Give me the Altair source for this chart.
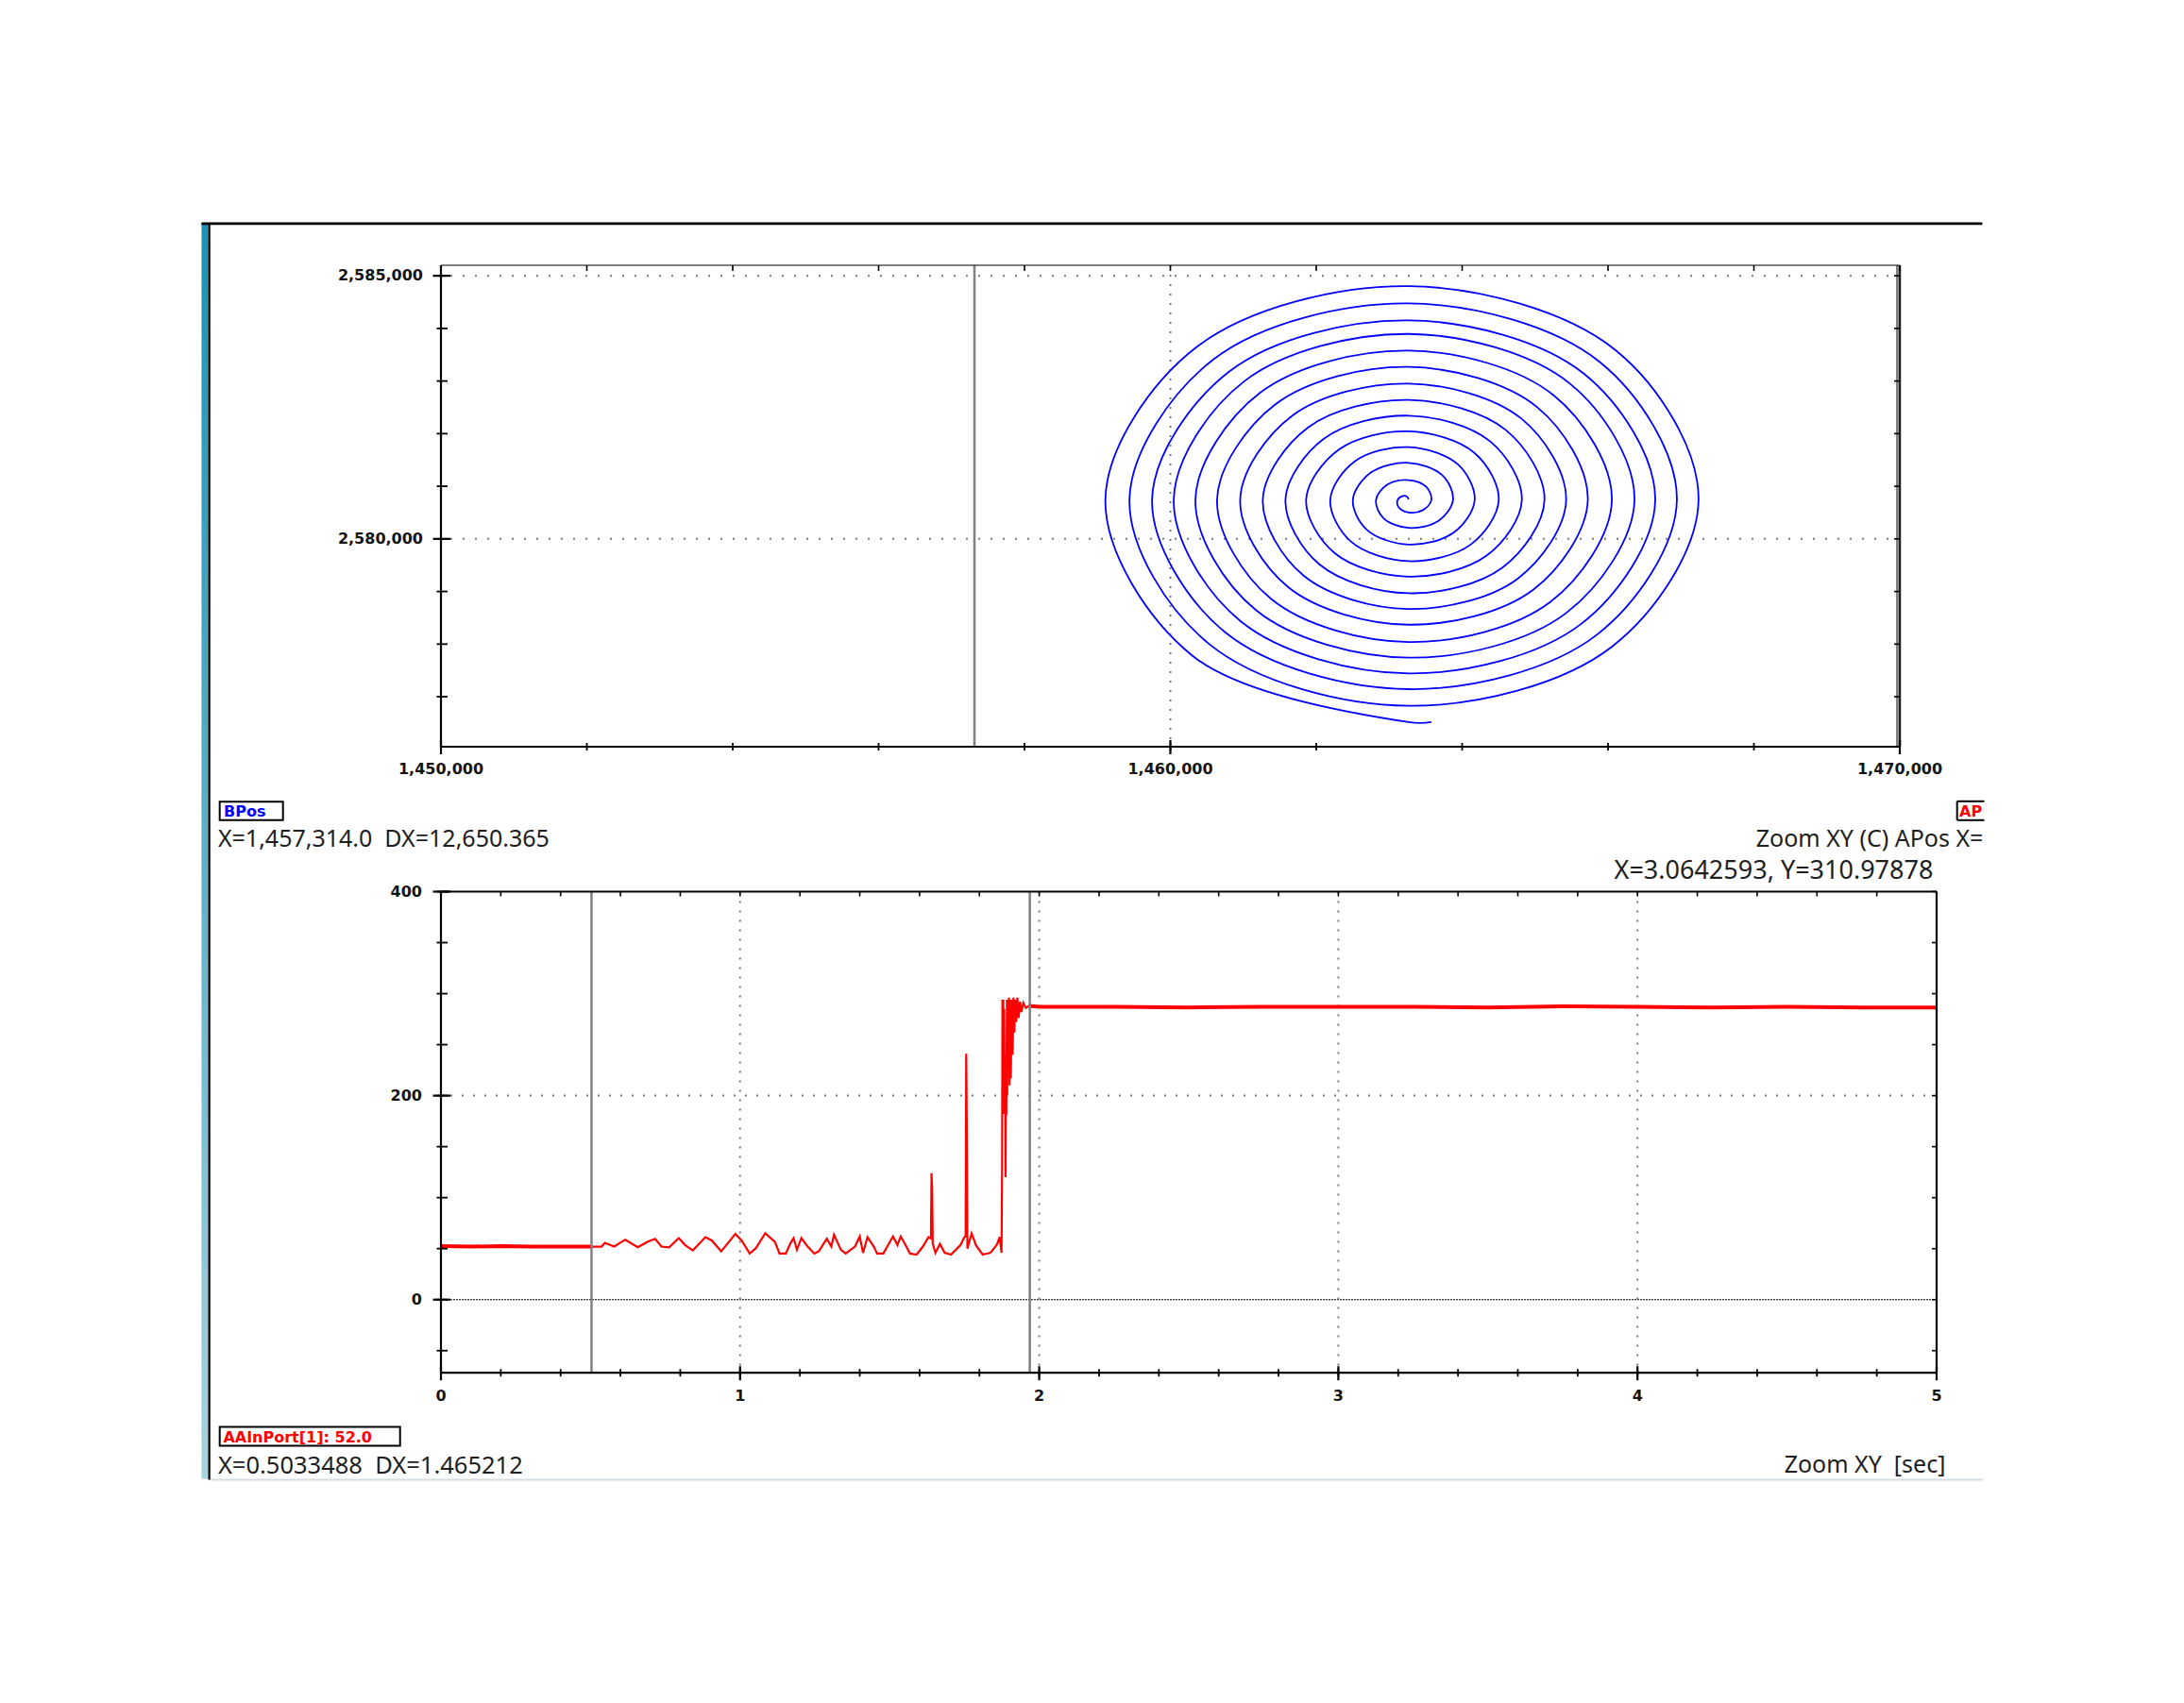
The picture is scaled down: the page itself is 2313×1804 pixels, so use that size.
import altair as alt
import pandas as pd

# ------------------------------------------------------------------ data
# Upper XY plot: BPos (x) vs APos (y) spiral, points read along each turn
# (right / upper-right / top / upper-left / left / lower-left / bottom / lower-right)
SPIRAL_X = [
    1463267, 1463241, 1463191, 1463116, 1463129, 1463267, 1463461, 1463578,
    1463510, 1463267, 1462976, 1462819, 1462921, 1463267, 1463670, 1463875,
    1463731, 1463267, 1462748, 1462502, 1462696, 1463267, 1463887, 1464172,
    1463942, 1463267, 1462532, 1462192, 1462475, 1463267, 1464116, 1464502,
    1464164, 1463267, 1462310, 1461861, 1462254, 1463267, 1464331, 1464819,
    1464382, 1463267, 1462104, 1461578, 1462042, 1463267, 1464553, 1465129,
    1464597, 1463267, 1461889, 1461267, 1461827, 1463267, 1464763, 1465426,
    1464812, 1463267, 1461669, 1460957, 1461612, 1463267, 1464974, 1465723,
    1465029, 1463267, 1461445, 1460640, 1461383, 1463267, 1465207, 1466053,
    1465255, 1463267, 1461230, 1460343, 1461173, 1463267, 1465422, 1466363,
    1465477, 1463267, 1461013, 1460046, 1460962, 1463267, 1465628, 1466647,
    1465668, 1463267, 1460817, 1459749, 1460751, 1463267, 1465839, 1466944,
    1465887, 1463267, 1460594, 1459439, 1460530, 1463267, 1466055, 1467241,
    1466108, 1463267, 1460361, 1459109, 1460304, 1463267, 1463578]
SPIRAL_Y = [
    2580753, 2580806, 2580817, 2580741, 2580603, 2580502, 2580547, 2580741,
    2580984, 2581117, 2581032, 2580741, 2580395, 2580209, 2580338, 2580741,
    2581205, 2581445, 2581260, 2580741, 2580170, 2579892, 2580121, 2580741,
    2581416, 2581744, 2581476, 2580741, 2579949, 2579576, 2579892, 2580741,
    2581638, 2582043, 2581698, 2580741, 2579728, 2579283, 2579677, 2580741,
    2581856, 2582342, 2581904, 2580741, 2579516, 2578966, 2579455, 2580741,
    2582071, 2582640, 2582119, 2580741, 2579301, 2578668, 2579245, 2580741,
    2582286, 2582951, 2582339, 2580741, 2579086, 2578369, 2579034, 2580741,
    2582503, 2583268, 2582563, 2580741, 2578857, 2578040, 2578801, 2580741,
    2582729, 2583578, 2582778, 2580741, 2578647, 2577742, 2578586, 2580741,
    2582951, 2583895, 2582995, 2580741, 2578436, 2577443, 2578380, 2580741,
    2583142, 2584152, 2583191, 2580741, 2578225, 2577144, 2578169, 2580741,
    2583361, 2584474, 2583414, 2580741, 2578004, 2576828, 2577953, 2580741,
    2583582, 2584803, 2583647, 2580741, 2577778, 2576517, 2576517]

TOP_X_DOMAIN = [1450000, 1470000]
TOP_Y_DOMAIN = [2576050, 2585200]
TOP_X_LABELS = [1450000, 1460000, 1470000]
TOP_Y_LABELS = [2580000, 2585000]
TOP_X_TICKS = [1450000, 1452000, 1454000, 1456000, 1458000, 1460000,
               1462000, 1464000, 1466000, 1468000, 1470000]
TOP_Y_TICKS = [2577000, 2578000, 2579000, 2580000, 2581000, 2582000,
               2583000, 2584000, 2585000]
TOP_GRID_X = [1460000]
TOP_GRID_Y = [2580000, 2585000]
TOP_CURSORS = [1457314.0, 1469964.365]

# Lower time plot: AAInPort[1] vs time [sec]
T_SEC = [0.0, 0.1, 0.2, 0.3, 0.4, 0.503, 0.537, 0.548, 0.579, 0.616, 0.658, 0.690,
         0.716, 0.737, 0.763, 0.795, 0.816, 0.842, 0.884, 0.905, 0.937, 0.984, 1.005,
         1.032, 1.053, 1.084, 1.116, 1.132, 1.153, 1.169, 1.179, 1.190, 1.205, 1.226,
         1.248, 1.263, 1.290, 1.305, 1.314, 1.337, 1.353, 1.384, 1.400, 1.411, 1.426,
         1.447, 1.458, 1.479, 1.495, 1.511, 1.526, 1.537, 1.553, 1.568, 1.590, 1.611,
         1.630, 1.638, 1.640, 1.642, 1.644, 1.653, 1.668, 1.684, 1.705, 1.737, 1.750,
         1.754, 1.756, 1.758, 1.760, 1.774, 1.789, 1.811, 1.837, 1.858, 1.868, 1.874,
         1.876, 1.877, 1.8785, 1.880, 1.8815, 1.883, 1.8845, 1.886, 1.8875, 1.889,
         1.890, 1.892, 1.893, 1.895, 1.897, 1.899, 1.901, 1.903, 1.905, 1.908, 1.911,
         1.914, 1.917, 1.920, 1.923, 1.927, 1.931, 1.936, 1.940, 1.947, 1.955, 1.965,
         2.0, 2.25, 2.5, 2.75, 3.0, 3.25, 3.5, 3.75, 4.0, 4.25, 4.5, 4.75, 5.0]
AIN = [52.5, 52, 52.5, 52, 52, 52, 52, 55.7, 52, 58.8, 51.3, 56.7,
       59.7, 52, 51.3, 60.3, 53.6, 48.3, 61.3, 58.1, 47.3, 64.4, 58.1,
       45.2, 50.5, 65.1, 56.7, 45.2, 45.2, 55.7, 60.3, 48.9, 60.3, 52,
       45.2, 47.3, 59.7, 52, 63.7, 48.9, 45.2, 52, 62, 45.9, 61.3,
       52, 45.2, 45.2, 53.6, 62, 53.6, 62, 53.6, 45.2, 44.2, 52,
       61.3, 60, 124, 110, 55, 45.9, 54.6, 45.9, 44.2, 53.6, 61.3,
       62, 241, 165, 50, 65, 53, 44.2, 45.9, 53.6, 61.3, 46,
       132, 294, 185, 294, 182, 285, 190, 240, 120, 230,
       181, 294, 200, 294, 230, 296, 210, 294, 217, 294, 240,
       296, 262, 294, 272, 296, 276, 292, 282, 291, 286, 288,
       287, 287, 286.5, 287, 287, 287, 286.5, 287.5, 287, 286.5, 287, 286.5, 286.5]

BOT_X_DOMAIN = [0, 5]
BOT_Y_DOMAIN = [-71.7, 400]
BOT_X_LABELS = [0, 1, 2, 3, 4, 5]
BOT_Y_LABELS = [0, 200, 400]
BOT_X_TICKS = [0.0, 0.2, 0.4, 0.6, 0.8, 1.0, 1.2, 1.4, 1.6, 1.8, 2.0, 2.2, 2.4,
               2.6, 2.8, 3.0, 3.2, 3.4, 3.6, 3.8, 4.0, 4.2, 4.4, 4.6, 4.8, 5.0]
BOT_Y_TICKS = [-50, 0, 50, 100, 150, 200, 250, 300, 350, 400]
BOT_GRID_X = [1, 2, 3, 4]
BOT_GRID_Y = [200]
BOT_ZERO = [0]
BOT_CURSORS = [0.5033488, 1.9685608]

TXT_TOP_INFO = "X=1,457,314.0\u00a0\u00a0DX=12,650.365"
TXT_TOP_RIGHT = "Zoom XY (C) APos X="
TXT_CURSOR = "X=3.0642593, Y=310.97878"
TXT_BOT_INFO = "X=0.5033488\u00a0\u00a0DX=1.465212"
TXT_BOT_RIGHT = "Zoom XY\u00a0\u00a0[sec]"

# ------------------------------------------------------------------ layout
W1, H1 = 1545.0, 510.0
W2, H2 = 1584.0, 509.7
GAP = 153.5
UI_FONT = "Noto Sans"
TICK_FONT = "DejaVu Sans"
TXT_COLOR = "#1e1e1e"

one = pd.DataFrame({"k": [0]})


def hline(x1, x2, y, color="black", w=2.0, dash=None):
    kw = dict(color=color, strokeWidth=w)
    if dash:
        kw["strokeDash"] = dash
    return alt.Chart(one).mark_rule(**kw).encode(
        x=alt.value(x1), x2=alt.value(x2), y=alt.value(y))


def vline(x, y1, y2, color="black", w=2.0, dash=None):
    kw = dict(color=color, strokeWidth=w)
    if dash:
        kw["strokeDash"] = dash
    return alt.Chart(one).mark_rule(**kw).encode(
        x=alt.value(x), y=alt.value(y1), y2=alt.value(y2))


def box(x1, x2, y1, y2, **kw):
    return alt.Chart(one).mark_rect(**kw).encode(
        x=alt.value(x1), x2=alt.value(x2), y=alt.value(y1), y2=alt.value(y2))


def text(x, y, s, font, size, color=TXT_COLOR, align="left", weight="normal"):
    return alt.Chart(one).mark_text(
        align=align, baseline="alphabetic", font=font, fontSize=size, color=color,
        fontWeight=weight,
    ).encode(x=alt.value(x), y=alt.value(y), text=alt.value(s))


def xrules(values, sx, y1, y2, color="black", w=1.6, dash=None):
    kw = dict(color=color, strokeWidth=w)
    if dash:
        kw["strokeDash"] = dash
    df = pd.DataFrame({"v": values})
    return alt.Chart(df).mark_rule(**kw).encode(
        x=alt.X("v:Q", scale=sx, axis=None), y=alt.value(y1), y2=alt.value(y2))


def yrules(values, sy, x1, x2, color="black", w=1.6, dash=None):
    kw = dict(color=color, strokeWidth=w)
    if dash:
        kw["strokeDash"] = dash
    df = pd.DataFrame({"v": values})
    return alt.Chart(df).mark_rule(**kw).encode(
        y=alt.Y("v:Q", scale=sy, axis=None), x=alt.value(x1), x2=alt.value(x2))


def xlabels(values, sx, y, fmt):
    df = pd.DataFrame({"v": values})
    return alt.Chart(df).transform_calculate(
        lab=f"format(datum.v, '{fmt}')"
    ).mark_text(align="center", baseline="top", font=TICK_FONT, fontSize=16,
                fontWeight="bold", color="#141414").encode(
        x=alt.X("v:Q", scale=sx, axis=None), y=alt.value(y), text=alt.Text("lab:N"))


def ylabels(values, sy, x, fmt):
    df = pd.DataFrame({"v": values})
    return alt.Chart(df).transform_calculate(
        lab=f"format(datum.v, '{fmt}')"
    ).mark_text(align="right", baseline="middle", font=TICK_FONT, fontSize=16,
                fontWeight="bold", color="#141414").encode(
        y=alt.Y("v:Q", scale=sy, axis=None), x=alt.value(x), text=alt.Text("lab:N"))


# ------------------------------------------------------------------ panel 1
SX1 = alt.Scale(domain=TOP_X_DOMAIN, nice=False, zero=False)
SY1 = alt.Scale(domain=TOP_Y_DOMAIN, nice=False, zero=False)

teal = alt.LinearGradient(
    gradient="linear",
    stops=[alt.GradientStop(color="#1A92B4", offset=0),
           alt.GradientStop(color="#5BB0C9", offset=0.5),
           alt.GradientStop(color="#A8D3DF", offset=1)],
    x1=0, x2=0, y1=0, y2=1)

spiral_df = pd.DataFrame({"x": SPIRAL_X, "y": SPIRAL_Y, "i": list(range(len(SPIRAL_X)))})
spiral = alt.Chart(spiral_df).mark_line(
    interpolate="catmull-rom", color="#0000FF", strokeWidth=1.8
).encode(
    x=alt.X("x:Q", scale=SX1, axis=None),
    y=alt.Y("y:Q", scale=SY1, axis=None),
    order="i:Q",
)

p1_layers = [
    box(-458.6, -457.6, -272.5, -271.5, fill="white"),          # page anchor
    box(-253.6, -246.6, -44.5, 1285.5, fill=teal),               # teal side bar
    vline(-245.4, -44.5, 1286.5, "black", 2.3),
    hline(-253.6, 1632.4, -44.2, "black", 2.7),                  # window top line
    hline(-244.0, 1633.4, 1286.5, "#D3DDE2", 2.0),               # window bottom line
    box(-234.3, -167.3, 568.2, 587.8, fill="white", stroke="black", strokeWidth=2),
    text(-230.0, 583.6, "BPos", TICK_FONT, 16, "#0000FF", weight="bold"),
    text(-236.1, 616.0, TXT_TOP_INFO, UI_FONT, 25),
    hline(1605.7, 1634.5, 567.8, "black", 2),
    hline(1605.7, 1634.5, 587.8, "black", 2),
    vline(1605.7, 567.8, 587.8, "black", 2),
    text(1608.0, 583.6, "AP", TICK_FONT, 16, "#FF0000", weight="bold"),
    text(1633.4, 616.0, TXT_TOP_RIGHT, UI_FONT, 25, align="right"),
    # grid
    yrules(TOP_GRID_Y, SY1, 10, W1, "#7A7A7A", 2, [2, 11]),
    xrules(TOP_GRID_X, SX1, 0, H1, "#7A7A7A", 2, [2, 8]),
    spiral,
    xrules(TOP_CURSORS, SX1, 0, H1, "#808080", 2.5),
    # frame
    vline(0, 0, H1, "black", 2.2),
    hline(0, W1, H1, "black", 2.2),
    hline(0, W1, 0, "black", 1.2),
    vline(W1, 0, H1, "#202020", 2.5),
    # ticks
    yrules(TOP_Y_TICKS, SY1, -4.5, 7, "black", 1.8),
    yrules(TOP_Y_LABELS, SY1, -8.5, 10, "black", 2.2),
    xrules(TOP_X_TICKS, SX1, H1 - 4, H1 + 4, "black", 1.8),
    xrules(TOP_X_LABELS, SX1, H1 - 7, H1 + 8, "black", 2.2),
    xrules(TOP_X_TICKS, SX1, 0, 6, "black", 1.6),
    yrules(TOP_Y_TICKS, SY1, W1 - 6, W1, "black", 1.6),
    # tick labels
    xlabels(TOP_X_LABELS, SX1, H1 + 15.5, ",d"),
    ylabels(TOP_Y_LABELS, SY1, -19.0, ",d"),
]
panel1 = alt.layer(*p1_layers).properties(width=W1, height=H1)

# ------------------------------------------------------------------ panel 2
SX2 = alt.Scale(domain=BOT_X_DOMAIN, nice=False, zero=False)
SY2 = alt.Scale(domain=BOT_Y_DOMAIN, nice=False, zero=False)

trace_df = pd.DataFrame({"t": T_SEC, "v": AIN})
trace = alt.Chart(trace_df).mark_line(color="#FF0000", strokeWidth=2.2).encode(
    x=alt.X("t:Q", scale=SX2, axis=None),
    y=alt.Y("v:Q", scale=SY2, axis=None),
)
trace_flat = alt.Chart(trace_df).transform_filter(
    "datum.t <= 0.51 || datum.t >= 1.96"
).transform_calculate(
    seg="datum.t <= 0.51 ? 'a' : 'b'"
).mark_line(color="#FF0000", strokeWidth=4).encode(
    x=alt.X("t:Q", scale=SX2, axis=None),
    y=alt.Y("v:Q", scale=SY2, axis=None),
    detail="seg:N",
)

p2_layers = [
    text(1580.4, -13.5, TXT_CURSOR, UI_FONT, 27, align="right"),
    box(-234.3, -43.3, 567.0, 587.0, fill="white", stroke="black", strokeWidth=2),
    text(-230.6, 583.0, "AAInPort[1]: 52.0", TICK_FONT, 16, "#FF0000", weight="bold"),
    text(-236.1, 616.0, TXT_BOT_INFO, UI_FONT, 25.5),
    text(1593.4, 615.0, TXT_BOT_RIGHT, UI_FONT, 25, align="right"),
    # grid
    yrules(BOT_GRID_Y, SY2, 10, W2, "#7A7A7A", 2, [2, 10]),
    yrules(BOT_ZERO, SY2, 10, W2, "black", 1, [2, 1]),
    xrules(BOT_GRID_X, SX2, 0, H2, "#7A7A7A", 2, [2, 8]),
    trace,
    trace_flat,
    xrules(BOT_CURSORS, SX2, 0, H2, "#808080", 2.5),
    # frame
    vline(0, 0, H2, "black", 2.2),
    hline(0, W2, H2, "black", 2.2),
    hline(0, W2, 0, "black", 2.0),
    vline(W2, 0, H2, "black", 2.2),
    # ticks
    yrules(BOT_Y_TICKS, SY2, -4.5, 7, "black", 1.8),
    yrules(BOT_Y_LABELS, SY2, -8.5, 10, "black", 2.2),
    xrules(BOT_X_TICKS, SX2, H2 - 4, H2 + 4, "black", 1.8),
    xrules(BOT_X_LABELS, SX2, H2 - 7, H2 + 8, "black", 2.2),
    xrules(BOT_X_TICKS, SX2, 0, 5, "black", 1.6),
    yrules(BOT_Y_TICKS, SY2, W2 - 5, W2, "black", 1.6),
    # tick labels
    xlabels(BOT_X_LABELS, SX2, H2 + 17, "d"),
    ylabels(BOT_Y_LABELS, SY2, -20.0, "d"),
]
panel2 = alt.layer(*p2_layers).properties(width=W2, height=H2)

chart = alt.vconcat(panel1, panel2, spacing=GAP, bounds="flush", padding=0,
                    background="white").configure_view(stroke=None)

chart.save("out.html", embed_options={"renderer": "svg", "actions": False})
